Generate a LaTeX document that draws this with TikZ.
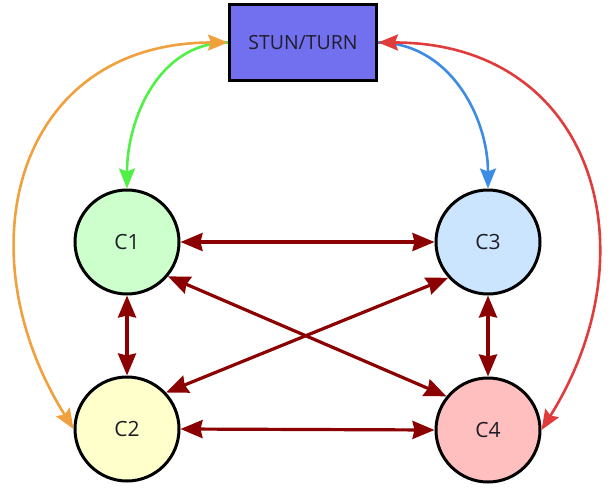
\documentclass[tikz,border=0pt]{standalone}
\usepackage{fontspec}
\setmainfont{Open Sans}
\usetikzlibrary{arrows.meta}
\definecolor{boxfill}{RGB}{115,112,240}
\definecolor{cone}{RGB}{204,255,204}
\definecolor{ctwo}{RGB}{255,255,204}
\definecolor{cthree}{RGB}{204,229,255}
\definecolor{cfour}{RGB}{255,191,191}
\definecolor{darkred}{RGB}{139,0,0}
\definecolor{agreen}{RGB}{80,240,70}
\definecolor{aorange}{RGB}{240,160,60}
\definecolor{ablue}{RGB}{60,140,230}
\definecolor{ared}{RGB}{225,60,60}
\definecolor{txt}{RGB}{30,30,40}
\tikzset{
  client/.style={circle, draw=black, line width=3pt, minimum size=104pt, inner sep=0pt, font=\fontsize{21}{25}\selectfont, text=txt},
  server/.style={rectangle, draw=black, line width=3pt, fill=boxfill, minimum width=147pt, minimum height=76pt, font=\fontsize{19.5}{23}\selectfont, text=txt},
  peer/.style={darkred, line width=3.2pt, {Stealth[length=22pt,width=18pt,inset=2pt]}-{Stealth[length=22pt,width=18pt,inset=2pt]}},
  srv/.style={line width=2.6pt, -{Stealth[length=20pt,width=16pt,inset=3pt]}},
  srvboth/.style={line width=2.6pt, {Stealth[length=20pt,width=16pt,inset=3pt]}-{Stealth[length=20pt,width=16pt,inset=3pt]}}
}
\begin{document}
\begin{tikzpicture}[x=1pt,y=-1pt]
\useasboundingbox (0,0) rectangle (616,490);
\node[server] (s) at (303,42.5) {STUN/TURN};
\node[client, fill=cone] (c1) at (127,242) {C1};
\node[client, fill=ctwo] (c2) at (127,429) {C2};
\node[client, fill=cthree] (c3) at (488,242) {C3};
\node[client, fill=cfour] (c4) at (488,430) {C4};
% server links
\draw[srv, agreen] (s.west) to[out=180,in=90] (c1.north);
\draw[srv, ablue] (s.east) to[out=0,in=90] (c3.north);
\draw[srvboth, aorange] (c2.west) to[out=122,in=180,looseness=1.3] (s.west);
\draw[srvboth, ared] (c4.east) to[out=58,in=0,looseness=1.3] (s.east);
% peer links
\draw[peer] (c1.east) -- (c3.west);
\draw[peer] (c2.east) -- (c4.west);
\draw[peer] (c1.south) -- (c2.north);
\draw[peer] (c3.south) -- (c4.north);
\draw[peer] (c1.-40) -- (c4.141);
\draw[peer] (c3.-138) -- (c2.43);
\end{tikzpicture}
\end{document}
